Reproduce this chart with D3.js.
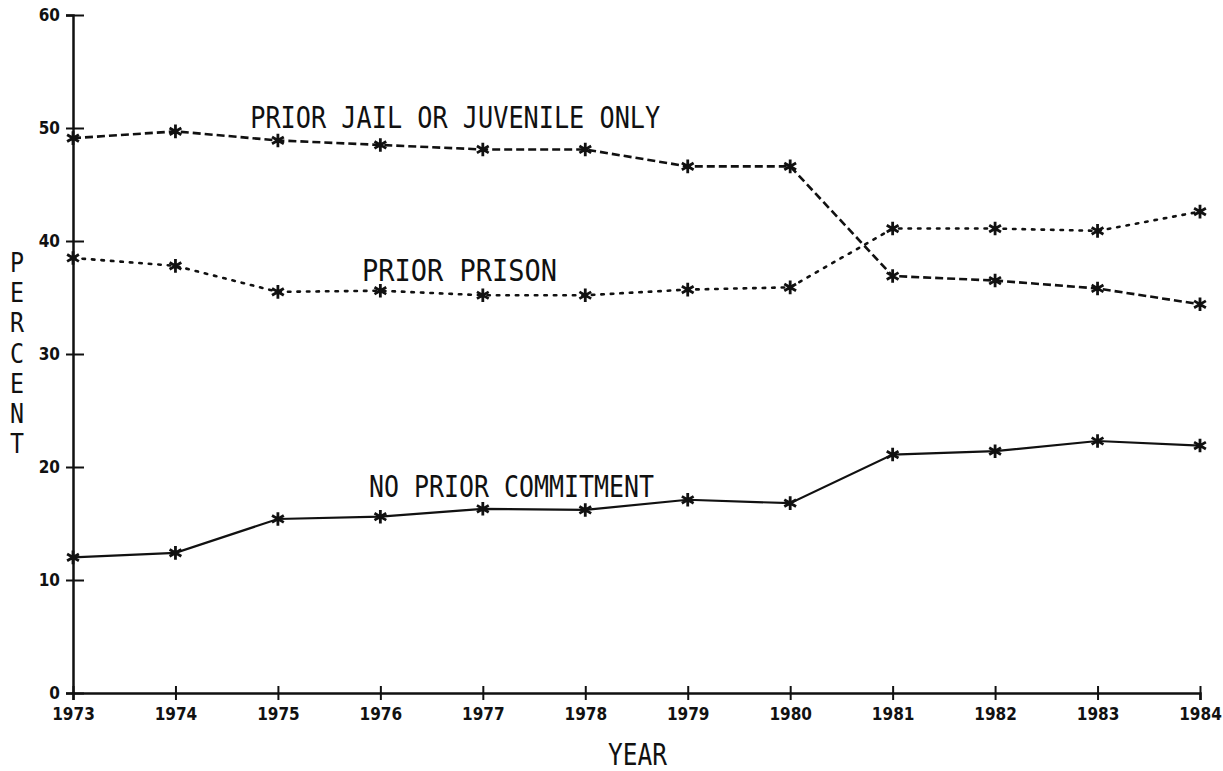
<!DOCTYPE html>
<html>
<head>
<meta charset="utf-8">
<script src="https://cdn.jsdelivr.net/npm/d3@7"></script>
<style>
    body { margin: 0; background: #fff; }
    text { font-family: "DejaVu Sans Mono", monospace; fill: #111; }
</style>
</head>
<body>
<div id="chart"></div>
<script>
const years = [1973, 1974, 1975, 1976, 1977, 1978, 1979, 1980, 1981, 1982, 1983, 1984];
const yTicks = [0, 10, 20, 30, 40, 50, 60];

const priorJail = [49.1, 49.7, 48.9, 48.5, 48.1, 48.1, 46.6, 46.6, 36.9, 36.5, 35.8, 34.4];
const priorPrison = [38.5, 37.8, 35.5, 35.6, 35.2, 35.2, 35.7, 35.9, 41.1, 41.1, 40.9, 42.6];
const noPrior = [12.0, 12.4, 15.4, 15.6, 16.3, 16.2, 17.1, 16.8, 21.1, 21.4, 22.3, 21.9];

const series = [
    {label: "PRIOR JAIL OR JUVENILE ONLY", values: priorJail, dash: "8,4", lx: 1974.73, ly: 50.0, lw: 410},
    {label: "PRIOR PRISON", values: priorPrison, dash: "2.5,7", lx: 1975.82, ly: 36.5, lw: 195},
    {label: "NO PRIOR COMMITMENT", values: noPrior, dash: null, lx: 1975.89, ly: 17.35, lw: 285}
];

const width = 1223, height = 771;
const margin = {top: 15, left: 73, bottom: 78, right: 23};

const svg = d3.select("#chart").append("svg")
    .attr("width", width)
    .attr("height", height);

const x = d3.scaleLinear()
    .domain([1973, 1984])
    .range([margin.left, width - margin.right]);

const y = d3.scaleLinear()
    .domain([0, 60])
    .range([height - margin.bottom, margin.top]);

// axes: ticks that cross the axis line, like the plotter output
const yAxis = svg.append("g")
    .attr("transform", `translate(${margin.left},0)`)
    .call(d3.axisLeft(y).tickValues(yTicks).tickSize(7).tickPadding(6).tickFormat(d3.format("d")));
yAxis.selectAll(".tick").append("line")
    .attr("x2", 11).attr("stroke", "#111").attr("stroke-width", 2);

const xAxis = svg.append("g")
    .attr("transform", `translate(0,${y(0)})`)
    .call(d3.axisBottom(x).tickValues(years).tickSize(7).tickPadding(8).tickFormat(d3.format("d")));
xAxis.selectAll(".tick").append("line")
    .attr("y2", -7).attr("stroke", "#111").attr("stroke-width", 2);

svg.selectAll(".domain").attr("stroke", "#111").attr("stroke-width", 2.5);
svg.selectAll(".tick line").attr("stroke", "#111").attr("stroke-width", 2);
svg.selectAll(".tick text")
    .style("font-family", "'DejaVu Sans Condensed', sans-serif")
    .style("font-weight", "bold")
    .style("font-size", "17px")
    .attr("fill", "#111");

const line = d3.line()
    .x((d, i) => x(years[i]))
    .y(d => y(d));

const star = d3.symbol().type(d3.symbolAsterisk).size(130);

series.forEach(s => {
    svg.append("path")
        .attr("d", line(s.values))
        .attr("fill", "none")
        .attr("stroke", "#111")
        .attr("stroke-width", s.dash ? 2.6 : 2.2)
        .attr("stroke-linecap", s.dash && s.dash.startsWith("2.5") ? "round" : "butt")
        .attr("stroke-dasharray", s.dash);

    svg.append("g").selectAll("path")
        .data(s.values)
        .join("path")
        .attr("transform", (d, i) => `translate(${x(years[i])},${y(d)})`)
        .attr("d", star)
        .attr("fill", "none")
        .attr("stroke", "#111")
        .attr("stroke-width", 2.8);

    svg.append("text")
        .attr("x", x(s.lx))
        .attr("y", y(s.ly))
        .attr("font-size", 30)
        .attr("textLength", s.lw)
        .attr("lengthAdjust", "spacingAndGlyphs")
        .text(s.label);
});

// axis titles
svg.append("text")
    .attr("x", 608)
    .attr("y", 765)
    .attr("font-size", 30)
    .attr("textLength", 59)
    .attr("lengthAdjust", "spacingAndGlyphs")
    .text("YEAR");

const pLetters = "PERCENT".split("");
svg.append("g").selectAll("text")
    .data(pLetters)
    .join("text")
    .attr("x", 17)
    .attr("y", (d, i) => 272 + i * 30.2)
    .attr("text-anchor", "middle")
    .attr("font-size", 26)
    .attr("textLength", 14)
    .attr("lengthAdjust", "spacingAndGlyphs")
    .text(d => d);
</script>
</body>
</html>
